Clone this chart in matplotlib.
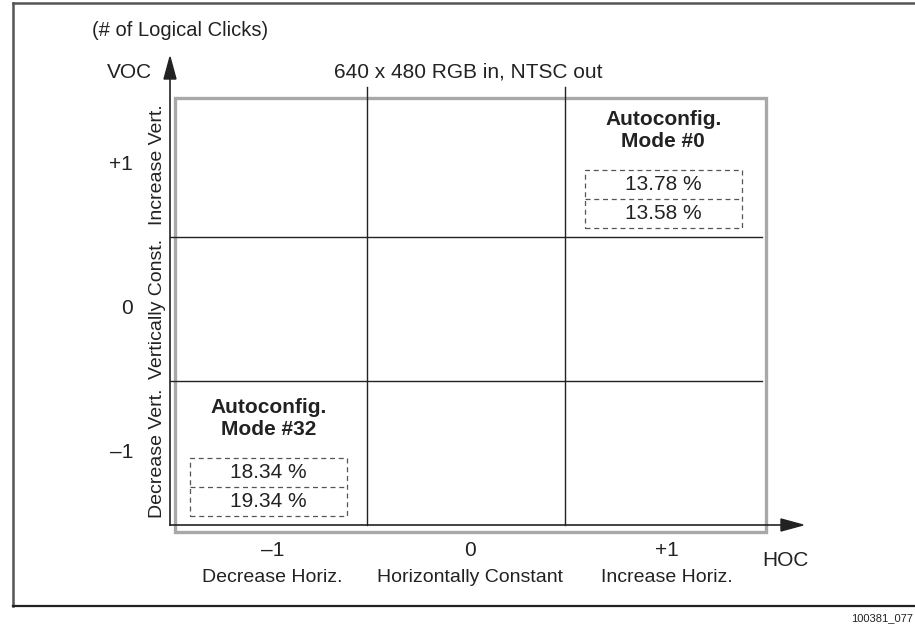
import matplotlib
matplotlib.use("Agg")
import matplotlib.pyplot as plt
from matplotlib.patches import Rectangle, Polygon

plt.rcParams['font.family'] = ['Liberation Sans', 'DejaVu Sans']

# ---- data ----
title = "640 x 480 RGB in, NTSC out"
unit_label = "(# of Logical Clicks)"
hoc_values = [-1, 0, 1]
hoc_ticks = ["\u20131", "0", "+1"]
hoc_names = ["Decrease Horiz.", "Horizontally Constant", "Increase Horiz."]
voc_values = [1, 0, -1]
voc_ticks = ["+1", "0", "\u20131"]
voc_names = ["Increase Vert.", "Vertically Const.", "Decrease Vert."]
modes = ["Autoconfig.\nMode #0", "Autoconfig.\nMode #32"]
mode_hoc = [1, -1]
mode_voc = [1, -1]
mode_pct_top = [13.78, 18.34]
mode_pct_bottom = [13.58, 19.34]
footer = "100381_077"

W, H = 915, 625
fig = plt.figure(figsize=(W / 100, H / 100), dpi=100)
fig.patch.set_facecolor("white")

# overlay axes in pixel coordinates for frame / arrow heads / free labels
ov = fig.add_axes([0, 0, 1, 1])
ov.set_xlim(0, W)
ov.set_ylim(H, 0)
ov.axis("off")

TXT = "#222222"
LINE = "#222222"

# outer frame (top, left, bottom)
ov.plot([13, W], [3, 3], color="#555555", lw=1.8)
ov.plot([13, 13], [3, 606], color="#555555", lw=1.8)
ov.plot([13, W], [606, 606], color="#222222", lw=1.6)

# grid axes (HOC x VOC, each -1..+1)
gx0, gx1, gy0, gy1 = 170, 762, 93, 525
ax = fig.add_axes([gx0 / W, (H - gy1) / H, (gx1 - gx0) / W, (gy1 - gy0) / H])
ax.set_xlim(-1.5, 1.5)
ax.set_ylim(-1.5, 1.5)
ax.axis("off")
sx = (gx1 - gx0) / 3.0  # pixels per data unit
sy = (gy1 - gy0) / 3.0

# gray shadow rectangle
rx0 = -1.5 + 5 / sx
ry0 = -1.5 - 7 / sy
ax.add_patch(Rectangle((rx0, ry0), 3 + 4 / sx - 5 / sx, 3 + 7 / sy - 5 / sy,
                       fill=False, edgecolor="#a8a8a8", lw=2.4, clip_on=False, zorder=1))

# grid lines
for xv in [-0.5, 0.5]:
    ax.plot([xv, xv], [-1.5, 1.5 + 6 / sy], color=LINE, lw=1.0, clip_on=False, zorder=2)
for yv in [-0.5, 0.5]:
    ax.plot([-1.5, 1.5], [yv, yv], color=LINE, lw=1.0, clip_on=False, zorder=2)

# axis arrows
ax.plot([-1.5, -1.5], [-1.5, 1.5 + 14 / sy], color=LINE, lw=1.2, clip_on=False, zorder=3)
ax.plot([-1.5, 1.5 + 20 / sx], [-1.5, -1.5], color=LINE, lw=1.2, clip_on=False, zorder=3)
ov.add_patch(Polygon([[170, 57], [164, 79], [176, 79]], closed=True, color=LINE, zorder=3))
ov.add_patch(Polygon([[803, 525], [781, 519], [781, 531]], closed=True, color=LINE, zorder=3))

fs = 15
ov.text(92, 30, unit_label, fontsize=14.5, color=TXT, ha="left", va="center")
ov.text(152, 72, "VOC", fontsize=fs, color=TXT, ha="right", va="center")
ov.text(468, 72, title, fontsize=fs, color=TXT, ha="center", va="center")
ov.text(785, 560, "HOC", fontsize=fs, color=TXT, ha="center", va="center")
ov.text(913, 618, footer, fontsize=8, color=TXT, ha="right", va="center")

# VOC labels
for v, t, n in zip(voc_values, voc_ticks, voc_names):
    ax.text(-1.5 - 37 / sx, v, t, fontsize=fs, color=TXT, ha="right", va="center", clip_on=False)
    ax.text(-1.5 - 13 / sx, v, n, fontsize=14, color=TXT, ha="center", va="center",
            rotation=90, clip_on=False)

# HOC labels
for h, t, n in zip(hoc_values, hoc_ticks, hoc_names):
    ax.text(h + 4 / sx, -1.5 - 26 / sy, t, fontsize=fs, color=TXT, ha="center", va="center", clip_on=False)
    ax.text(h + 4 / sx, -1.5 - 53 / sy, n, fontsize=14, color=TXT, ha="center", va="center", clip_on=False)

# mode annotations
hw = 0.397
for m, h, v, p1, p2 in zip(modes, mode_hoc, mode_voc, mode_pct_top, mode_pct_bottom):
    ax.text(h, v + 34.5 / sy, m, fontsize=fs, fontweight="bold", color=TXT, ha="center",
            va="center", linespacing=1.15, clip_on=False)
    top = v - 5 / sy
    mid = v - 34 / sy
    bot = v - 63 / sy
    ax.add_patch(Rectangle((h - hw, bot), 2 * hw, top - bot, fill=False, edgecolor="#555555",
                           lw=0.9, linestyle=(0, (4, 3)), clip_on=False, zorder=4))
    ax.plot([h - hw, h + hw], [mid, mid], color="#555555", lw=0.9, linestyle=(0, (4, 3)),
            clip_on=False, zorder=4)
    ax.text(h, (top + mid) / 2, f"{p1:.2f} %", fontsize=fs, color=TXT, ha="center", va="center", clip_on=False)
    ax.text(h, (mid + bot) / 2, f"{p2:.2f} %", fontsize=fs, color=TXT, ha="center", va="center", clip_on=False)

fig.savefig("out.png", dpi=100, facecolor="white")
